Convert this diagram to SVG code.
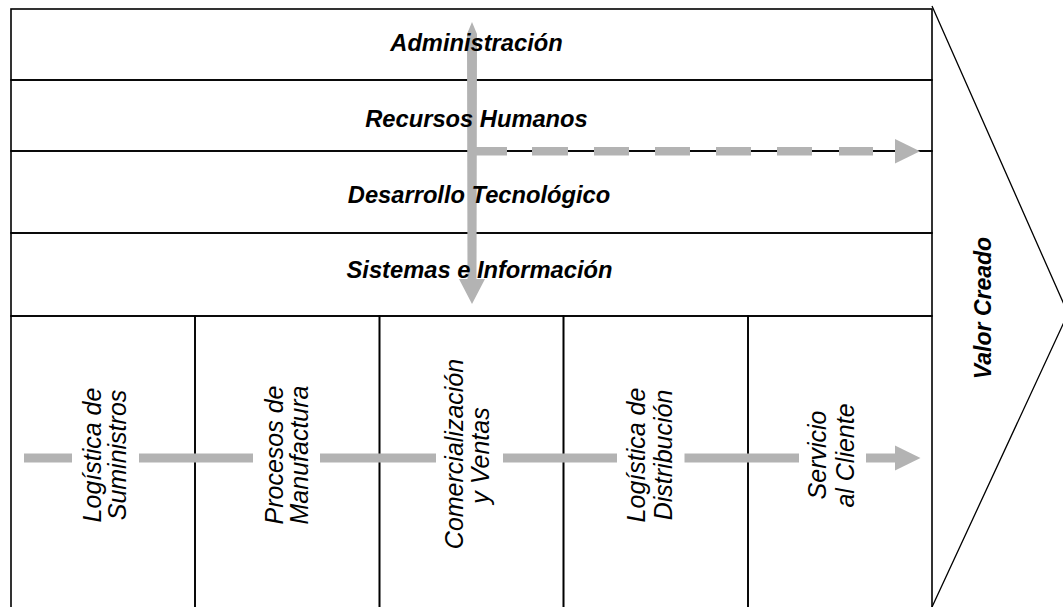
<svg xmlns="http://www.w3.org/2000/svg" width="1063" height="607" viewBox="0 0 1063 607">
<style>
.box{fill:none;stroke:#000;stroke-width:1.6}
.area{fill:none;stroke:none}
.chev{fill:none;stroke:#000;stroke-width:1.3}
.row{font-family:"Liberation Sans",Arial,sans-serif;font-weight:bold;font-style:italic;font-size:23.7px;fill:#000;text-anchor:middle}
.col{font-family:"Liberation Sans",Arial,sans-serif;font-style:italic;font-size:25px;fill:#000;text-anchor:middle}
.val{font-family:"Liberation Sans",Arial,sans-serif;font-weight:bold;font-style:italic;font-size:23px;fill:#000;text-anchor:middle}
.ar{fill:#b3b3b3;stroke:none}
</style>
<rect width="1063" height="607" fill="#fff"/>
<g id="frame">
<rect class="box" x="11" y="9" width="921" height="71"/>
<rect class="box" x="11" y="80" width="921" height="71"/>
<rect class="box" x="11" y="151" width="921" height="82"/>
<rect class="box" x="11" y="233" width="921" height="83"/>
<rect class="box" x="11" y="316" width="184" height="310"/>
<rect class="box" x="195" y="316" width="184.5" height="310"/>
<rect class="box" x="379.5" y="316" width="184" height="310"/>
<rect class="box" x="563.5" y="316" width="184.5" height="310"/>
<rect class="box" x="748" y="316" width="184" height="310"/>
</g>
<g id="connectors">
<path class="ar" d="M472,22 L477,34 L476.5,279 L485,279 L472,304 L459,279 L467.5,279 L467,34 Z"/>
<rect class="ar" x="476" y="147" width="31" height="8.5"/>
<rect class="ar" x="532" y="147" width="36" height="8.5"/>
<rect class="ar" x="594" y="147" width="35" height="8.5"/>
<rect class="ar" x="655" y="147" width="35" height="8.5"/>
<rect class="ar" x="716" y="147" width="35" height="8.5"/>
<rect class="ar" x="777" y="147" width="35" height="8.5"/>
<rect class="ar" x="839" y="147" width="34" height="8.5"/>
<path class="ar" d="M895,139 L920,151.3 L895,163.5 Z"/>
<rect class="ar" x="24" y="453.5" width="48" height="9"/>
<rect class="ar" x="139" y="453.5" width="114" height="9"/>
<rect class="ar" x="320" y="453.5" width="116" height="9"/>
<rect class="ar" x="503" y="453.5" width="114" height="9"/>
<rect class="ar" x="684.5" y="453.5" width="114.5" height="9"/>
<rect class="ar" x="866" y="453.5" width="30" height="9"/>
<path class="ar" d="M895,445.5 L920.5,458 L895,470.5 Z"/>
</g>
<g id="administracion">
<rect class="area" x="11" y="9" width="921" height="71"/>
<text class="row" x="476.5" y="51">Administración</text>
</g>
<g id="recursos-humanos">
<rect class="area" x="11" y="80" width="921" height="71"/>
<text class="row" x="476.5" y="127">Recursos Humanos</text>
</g>
<g id="desarrollo-tecnologico">
<rect class="area" x="11" y="151" width="921" height="82"/>
<text class="row" x="479" y="203">Desarrollo Tecnológico</text>
</g>
<g id="sistemas-informacion">
<rect class="area" x="11" y="233" width="921" height="83"/>
<text class="row" x="479.5" y="278">Sistemas e Información</text>
</g>
<g id="logistica-suministros">
<rect class="area" x="11" y="316" width="184" height="291"/>
<text class="col" transform="translate(100.5,455) rotate(-90)">Logística de</text>
<text class="col" transform="translate(125.7,455) rotate(-90)">Suministros</text>
</g>
<g id="procesos-manufactura">
<rect class="area" x="195" y="316" width="184.5" height="291"/>
<text class="col" transform="translate(283,455) rotate(-90)">Procesos de</text>
<text class="col" transform="translate(308,455) rotate(-90)">Manufactura</text>
</g>
<g id="comercializacion-ventas">
<rect class="area" x="379.5" y="316" width="184" height="291"/>
<text class="col" transform="translate(463,454) rotate(-90)">Comercialización</text>
<text class="col" transform="translate(489,455.5) rotate(-90)">y Ventas</text>
</g>
<g id="logistica-distribucion">
<rect class="area" x="563.5" y="316" width="184.5" height="291"/>
<text class="col" transform="translate(645,455) rotate(-90)">Logística de</text>
<text class="col" transform="translate(672.4,455) rotate(-90)">Distribución</text>
</g>
<g id="servicio-cliente">
<rect class="area" x="748" y="316" width="184" height="291"/>
<text class="col" transform="translate(826,455) rotate(-90)">Servicio</text>
<text class="col" transform="translate(854,455.5) rotate(-90)">al Cliente</text>
</g>
<g id="valor-creado">
<path class="chev" d="M932,6 L1068,313.5 L932,607"/>
<text class="val" transform="translate(991,308) rotate(-90)">Valor Creado</text>
</g>
</svg>
